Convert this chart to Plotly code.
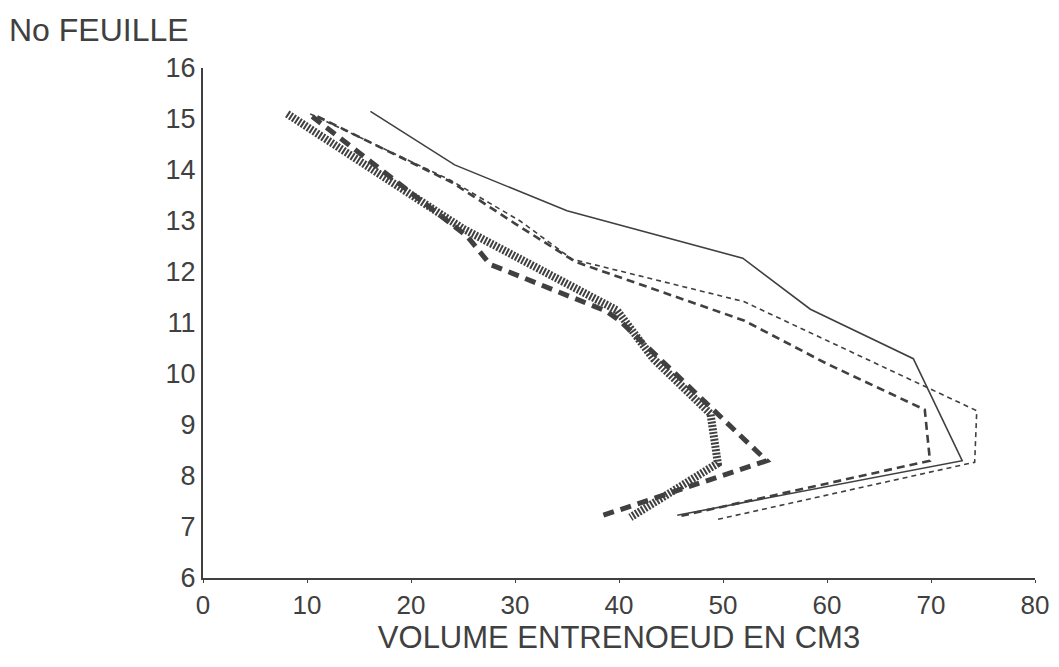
import plotly.graph_objects as go

# volumes (cm3) read along each curve, and leaf number
vol_a = [16.1, 24.2, 35.0, 51.9, 58.4, 68.3, 73.0, 45.6]
leaf_a = [15.15, 14.1, 13.2, 12.27, 11.27, 10.3, 8.3, 7.23]

vol_b = [10.3, 23.8, 30.5, 35.5, 52.0, 74.4, 74.2, 49.5]
leaf_b = [15.1, 13.8, 13.0, 12.25, 11.42, 9.28, 8.27, 7.15]

vol_c = [11.0, 24.0, 30.0, 35.8, 52.0, 60.0, 69.4, 69.9, 46.0]
leaf_c = [15.05, 13.75, 12.95, 12.2, 11.05, 10.2, 9.3, 8.3, 7.22]

vol_d = [10.5, 25.4, 27.6, 38.8, 40.1, 54.2, 37.9]
leaf_d = [15.05, 12.7, 12.15, 11.23, 11.04, 8.3, 7.19]

vol_e = [8.1, 25.0, 39.8, 41.3, 43.3, 48.8, 49.5, 41.1]
leaf_e = [15.1, 12.85, 11.25, 10.85, 10.3, 9.22, 8.25, 7.19]

x_ticks = [0, 10, 20, 30, 40, 50, 60, 70, 80]
y_ticks = [6, 7, 8, 9, 10, 11, 12, 13, 14, 15, 16]

ink = "#404040"

fig = go.Figure()
fig.add_trace(go.Scatter(x=vol_a, y=leaf_a, mode="lines",
                         line=dict(color=ink, width=1.6)))
fig.add_trace(go.Scatter(x=vol_b, y=leaf_b, mode="lines",
                         line=dict(color=ink, width=1.6, dash="5px,4px")))
fig.add_trace(go.Scatter(x=vol_c, y=leaf_c, mode="lines",
                         line=dict(color=ink, width=2.6, dash="8px,5px")))
fig.add_trace(go.Scatter(x=vol_d, y=leaf_d, mode="lines",
                         line=dict(color=ink, width=5, dash="11px,7px")))
fig.add_trace(go.Scatter(x=vol_e, y=leaf_e, mode="lines",
                         line=dict(color=ink, width=8, dash="2px,1.5px")))

# page body has an 8px margin, keep the figure inside the window
fig.update_layout(
    width=1045, height=656,
    margin=dict(l=195, r=18, t=60, b=86),
    paper_bgcolor="white", plot_bgcolor="white",
    showlegend=False,
    font=dict(family="Liberation Sans, Arial, sans-serif", color=ink, size=26),
    xaxis=dict(range=[0, 80], tickvals=x_ticks, showgrid=False, zeroline=False,
               showline=True, linecolor=ink, linewidth=2, automargin=False,
               ticks="outside", ticklen=3, tickcolor=ink,
               tickfont=dict(size=26),
               title=dict(text="VOLUME ENTRENOEUD EN CM3", font=dict(size=31),
                          standoff=6)),
    yaxis=dict(range=[6, 16], tickvals=y_ticks, showgrid=False, zeroline=False,
               showline=True, linecolor=ink, linewidth=2, automargin=False,
               ticks="", tickfont=dict(size=27)),
    annotations=[dict(text="No FEUILLE", xref="paper", yref="paper",
                      x=-0.236, y=1.114, xanchor="left", yanchor="top",
                      showarrow=False, font=dict(size=32, color=ink))],
)

fig.write_html("out.html")
